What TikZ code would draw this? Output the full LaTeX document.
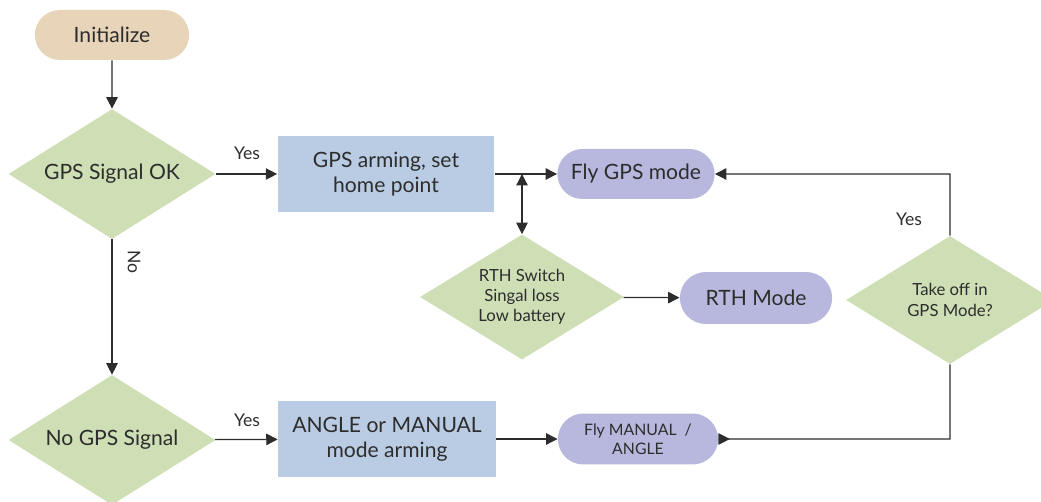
\documentclass[tikz,border=0pt]{standalone}
\usepackage{fontspec}
\setmainfont{Lato}
\usetikzlibrary{arrows.meta,positioning,shapes.geometric,shapes.misc}
\definecolor{tan}{RGB}{231,212,185}
\definecolor{sage}{RGB}{206,222,181}
\definecolor{steel}{RGB}{186,204,227}
\definecolor{lav}{RGB}{184,184,222}
\definecolor{ink}{RGB}{45,45,45}
\tikzset{>={Triangle[length=6.5pt,width=6.5pt]},
	pill/.style={rounded rectangle,fill=lav,text=ink,minimum width=3.38cm,minimum height=1cm,font=\fontsize{12}{14}\selectfont},
	start/.style={pill,fill=tan,minimum width=3.32cm},
	decide/.style={diamond,shape aspect=1.6,fill=sage,text=ink,inner sep=0pt,align=center,minimum width=4.14cm,minimum height=2.6cm,font=\fontsize{12}{14}\selectfont},
	sdecide/.style={decide,font=\fontsize{9.5}{11.5}\selectfont},
	proc/.style={rectangle,fill=steel,text=ink,align=center,minimum width=4.34cm,minimum height=1.52cm,font=\fontsize{12}{14}\selectfont},
	lbl/.style={inner sep=1pt,text=ink,font=\fontsize{10}{12}\selectfont},
	flow/.style={->,line width=0.7pt,draw=ink}}

\begin{document}
\begin{tikzpicture}[x=0.02cm,y=-0.02cm]
	\useasboundingbox (0,0) rectangle (1041,502);
	\clip (0,0) rectangle (1041,502);
	\node (init) at (112,35) [start] {Initialize};
	\node (gpsok) at (112,174) [decide] {GPS Signal OK};
	\node (gpsarm) at (386,174) [proc] {GPS arming, set\\home point};
	\node (flygps) at (636,174) [pill] {Fly GPS mode};
	\node (rth) at (522,297) [sdecide,minimum width=4.08cm,minimum height=2.5cm] {RTH Switch\\Singal loss\\Low battery};
	\node (rthmode) at (756,298) [pill,minimum width=3.28cm,minimum height=1.04cm] {RTH Mode};
	\node (takeoff) at (950,300) [sdecide,minimum width=4.16cm,minimum height=2.56cm] {Take off in\\GPS Mode?};
	\node (nogps) at (112,440) [decide] {No GPS Signal};
	\node (anglearm) at (387,439) [proc,minimum width=4.36cm,minimum height=1.54cm] {ANGLE or MANUAL\\mode arming};
	\node (flyman) at (638,439) [pill,align=center,minimum width=3.44cm,minimum height=1.02cm,font=\fontsize{9}{11}\selectfont] {Fly MANUAL~~/\\ANGLE};
	\coordinate (j1) at (522,174);
	\coordinate (c1) at (950,174);
	\coordinate (c2) at (950,439);
	\node at (247,153) [lbl] {Yes};
	\node at (247,420) [lbl] {Yes};
	\node at (909,219) [lbl] {Yes};
	\node at (134,262) [lbl,rotate=-90] {No};
	\draw [flow] (init) -- (gpsok);
	\draw [flow] (gpsok) -- (gpsarm);
	\draw [flow] (gpsarm) -- (flygps);
	\draw [flow,<->] (j1) -- (rth);
	\draw [flow] (rth) -- (rthmode);
	\draw [flow] (takeoff) -- (c1) -- (flygps);
	\draw [flow] (gpsok) -- (nogps);
	\draw [flow] (nogps) -- (anglearm);
	\draw [flow] (anglearm) -- (flyman);
	\draw [flow,{Triangle[reversed,length=6.5pt,width=6.5pt]}-] (flyman) -- (c2) -- (takeoff);
\end{tikzpicture}
\end{document}
